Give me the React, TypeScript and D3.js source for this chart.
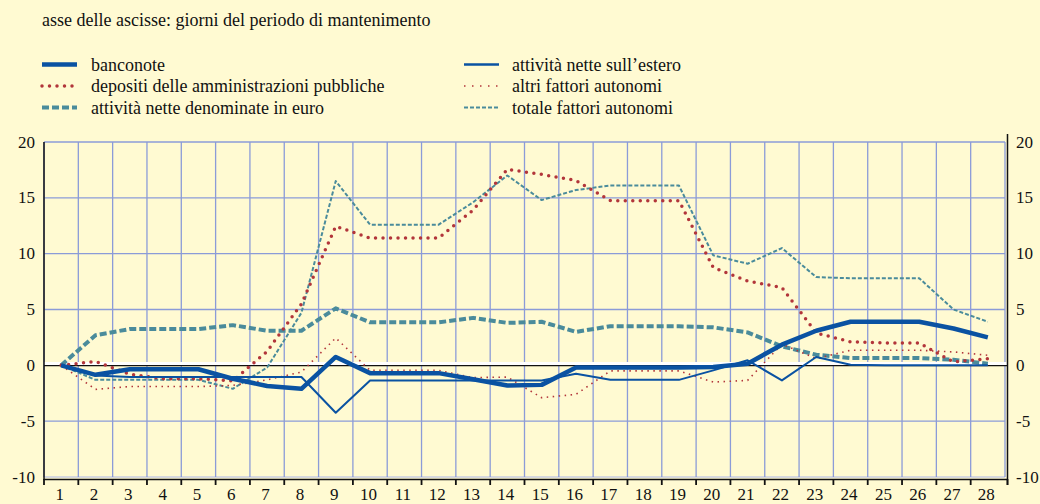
import React from "react";
import * as d3 from "d3";

const days = d3.range(1, 29).map(String);
const yTicks = [-10, -5, 0, 5, 10, 15, 20];

const banconote = [0, -0.85, -0.35, -0.35, -0.35, -1.2, -1.85, -2.1, 0.75, -0.7, -0.7, -0.7, -1.25, -1.8, -1.75, -0.2, -0.2, -0.2, -0.2, -0.15, 0.15, 1.85, 3.1, 3.9, 3.9, 3.9, 3.3, 2.5];
const depositi = [0, 0.35, -0.8, -1.2, -1.2, -1.4, 1.25, 5.5, 12.45, 11.4, 11.4, 11.4, 13.9, 17.55, 17.1, 16.55, 14.75, 14.75, 14.75, 8.75, 7.55, 6.97, 2.9, 2.1, 2.0, 2.0, 0.3, 0.6];
const euro = [0, 2.7, 3.25, 3.25, 3.25, 3.6, 3.1, 3.1, 5.1, 3.85, 3.85, 3.85, 4.25, 3.8, 3.9, 3.0, 3.5, 3.5, 3.5, 3.4, 2.95, 1.7, 0.95, 0.65, 0.65, 0.65, 0.5, 0.15];
const estero = [0, -0.9, -1.05, -1.05, -1.05, -1.05, -1.05, -1.05, -4.25, -1.35, -1.35, -1.35, -1.35, -1.35, -1.35, -0.75, -1.3, -1.3, -1.3, -0.45, 0.45, -1.35, 0.75, 0.05, 0, 0, 0, 0];
const altri = [0, -2.15, -1.9, -1.9, -1.9, -1.8, -1.3, -0.6, 2.45, -0.45, -0.45, -0.45, -1.1, -1.05, -2.9, -2.6, -0.5, -0.5, -0.5, -1.5, -1.35, 1.9, 0.6, 1.35, 1.35, 1.35, 1.2, 0.9];
const totale = [0, -1.3, -1.3, -1.3, -1.3, -2.1, -0.2, 4.7, 16.5, 12.6, 12.6, 12.6, 14.6, 17.0, 14.8, 15.7, 16.1, 16.1, 16.1, 9.85, 9.1, 10.5, 7.9, 7.8, 7.8, 7.8, 5.0, 3.9];

const BLUE = "#0a52a2";
const RED = "#b2353a";
const TEAL = "#4a8b9b";
const GRID = "#8b9bd8";
const BG = "#fffad2";

type S = { name: string; values: number[]; color: string; width: number; dash?: string; cap?: string };

const series: S[] = [
  { name: "attività nette denominate in euro", values: euro, color: TEAL, width: 4, dash: "7,3" },
  { name: "totale fattori autonomi", values: totale, color: TEAL, width: 2, dash: "4,2" },
  { name: "depositi delle amministrazioni pubbliche", values: depositi, color: RED, width: 3.5, dash: "0,7.5", cap: "round" },
  { name: "altri fattori autonomi", values: altri, color: RED, width: 1.6, dash: "1.5,4.5" },
  { name: "attività nette sull’estero", values: estero, color: BLUE, width: 2 },
  { name: "banconote", values: banconote, color: BLUE, width: 4.5 },
];

const legendLeft = [
  { name: "banconote", color: BLUE, width: 4.5, dash: undefined as string | undefined, cap: undefined as string | undefined },
  { name: "depositi delle amministrazioni pubbliche", color: RED, width: 3.5, dash: "0,7.5", cap: "round" },
  { name: "attività nette denominate in euro", color: TEAL, width: 4, dash: "7,3", cap: undefined },
];
const legendRight = [
  { name: "attività nette sull’estero", color: BLUE, width: 2.5, dash: undefined as string | undefined, cap: undefined as string | undefined },
  { name: "altri fattori autonomi", color: RED, width: 1.6, dash: "1.5,6.5", cap: undefined },
  { name: "totale fattori autonomi", color: TEAL, width: 2, dash: "4,2", cap: undefined },
];

export default function App() {
  const W = 1040, H = 504;
  const left = 44, right = 1005, top = 142, bottom = 477;
  const x = d3.scaleBand<string>().domain(days).range([left, right]);
  const y = d3.scaleLinear().domain([-10, 20]).range([bottom, top]);
  const cx = (i: number) => (x(days[i]) as number) + x.bandwidth() / 2;
  const line = d3.line<number>().x((_, i) => cx(i)).y((v) => y(v));
  const font = "'Liberation Serif', 'DejaVu Serif', serif";
  const boundaries = d3.range(0, 29).map((i) => left + i * x.step());
  const fs = 18;
  const tfs = 17;

  return (
    <svg width={W} height={H} style={{ position: "absolute", left: 0, top: 0, background: BG }} fontFamily={font}>
      <rect x={0} y={0} width={W} height={H} fill={BG} />
      <text x={42} y={26} fontSize={fs} fill="#111">asse delle ascisse: giorni del periodo di mantenimento</text>
      {legendLeft.map((l, i) => (
        <g key={l.name}>
          <line x1={42} x2={77} y1={64.5 + i * 21.5} y2={64.5 + i * 21.5} stroke={l.color} strokeWidth={l.width} strokeDasharray={l.dash} strokeLinecap={(l.cap as any) || "butt"} />
          <text x={91} y={70.5 + i * 21.5} fontSize={fs} fill="#111">{l.name}</text>
        </g>
      ))}
      {legendRight.map((l, i) => (
        <g key={l.name}>
          <line x1={464} x2={499} y1={64.5 + i * 21.5} y2={64.5 + i * 21.5} stroke={l.color} strokeWidth={l.width} strokeDasharray={l.dash} strokeLinecap={(l.cap as any) || "butt"} />
          <text x={512} y={70.5 + i * 21.5} fontSize={fs} fill="#111">{l.name}</text>
        </g>
      ))}
      {/* grid */}
      {yTicks.filter((t) => t !== 0).map((t) => (
        <line key={t} x1={left} x2={right} y1={y(t)} y2={y(t)} stroke={t === -10 ? "#c9cde0" : GRID} strokeWidth={1.3} />
      ))}
      {boundaries.map((b, i) => (
        <line key={i} x1={b} x2={b} y1={top} y2={bottom} stroke={GRID} strokeWidth={1.3} />
      ))}
      {/* zero line */}
      <line x1={left} x2={1008} y1={y(0) - 1.8} y2={y(0) - 1.8} stroke="#ffffff" strokeWidth={3} />
      <line x1={left} x2={1008} y1={y(0) + 0.2} y2={y(0) + 0.2} stroke="#111" strokeWidth={1.3} />
      {/* series */}
      {series.map((s) => (
        <path key={s.name} d={line(s.values) || ""} fill="none" stroke={s.color} strokeWidth={s.width} strokeDasharray={s.dash} strokeLinecap={(s.cap as any) || "butt"} strokeLinejoin="round" />
      ))}
      {/* axes */}
      <line x1={left} x2={left} y1={top} y2={480} stroke="#111" strokeWidth={1.5} />
      <line x1={1007.5} x2={1007.5} y1={top - 8} y2={485} stroke="#111" strokeWidth={1.5} />
      <line x1={left} x2={1007.5} y1={479.5} y2={479.5} stroke="#111" strokeWidth={1.5} />
      {boundaries.map((b, i) => (
        <line key={"t" + i} x1={b + (i === 28 ? 2.5 : 0)} x2={b + (i === 28 ? 2.5 : 0)} y1={479} y2={485} stroke="#111" strokeWidth={1.8} />
      ))}
      {yTicks.map((t) => (
        <g key={"yl" + t}>
          <text x={35} y={y(t) + 5.5} fontSize={tfs} textAnchor="end" fill="#111">{t}</text>
          <text x={1016} y={y(t) + 5.5} fontSize={tfs} textAnchor="start" fill="#111">{t}</text>
        </g>
      ))}
      {days.map((d, i) => (
        <text key={"xl" + d} x={cx(i) - 1.5} y={500} fontSize={tfs} textAnchor="middle" fill="#111">{d}</text>
      ))}
    </svg>
  );
}
